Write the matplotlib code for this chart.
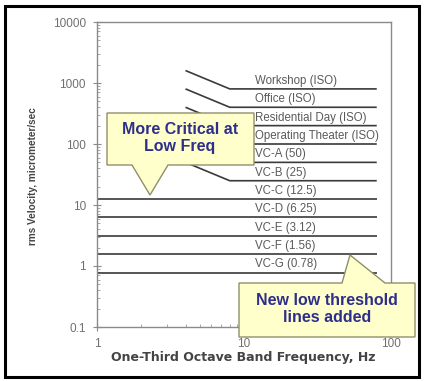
import matplotlib.pyplot as plt
from matplotlib.patches import Polygon, Rectangle
from matplotlib.ticker import LogLocator, NullFormatter, FixedLocator

# sloped criteria (4 Hz -> 8 Hz, then flat to 80 Hz)
iso_labels = ['Workshop (ISO)', 'Office (ISO)', 'Residential Day (ISO)',
              'Operating Theater (ISO)', 'VC-A (50)', 'VC-B (25)']
iso_values = [800, 400, 200, 100, 50, 25]
iso_freq = [4, 8, 80]

# flat criteria (1 Hz -> 80 Hz)
vc_labels = ['VC-C (12.5)', 'VC-D (6.25)', 'VC-E (3.12)', 'VC-F (1.56)', 'VC-G (0.78)']
vc_values = [12.5, 6.25, 3.12, 1.56, 0.78]
vc_freq = [1, 80]

x_ticks = [1, 10, 100]
y_ticks = [0.1, 1, 10, 100, 1000, 10000]

W, H = 424, 381


def px(x, y):
    # pixel (top-left origin) -> figure fraction
    return (x / W, 1 - y / H)


fig = plt.figure(figsize=(W / 100, H / 100), dpi=100)
ax = fig.add_axes([97 / W, 1 - 327 / H, 294 / W, 305 / H])

line_kw = dict(color='#3a3a3a', lw=1.2, solid_capstyle='butt')
lab_kw = dict(fontsize=8.3, color='#5a5a5a', family='Liberation Sans',
              ha='left', va='bottom')
label_x = 11.9

for lab, v in zip(iso_labels, iso_values):
    ax.plot(iso_freq, [v * iso_freq[1] / iso_freq[0], v, v], **line_kw)
    ax.annotate(lab, (label_x, v), xytext=(0, 1.5), textcoords='offset points', **lab_kw)

for lab, v in zip(vc_labels, vc_values):
    ax.plot(vc_freq, [v, v], **line_kw)
    ax.annotate(lab, (label_x, v), xytext=(0, 1.5), textcoords='offset points', **lab_kw)

ax.set_xscale('log')
ax.set_yscale('log')
ax.set_xlim(1, 100)
ax.set_ylim(0.1, 10000)

ax.xaxis.set_major_locator(FixedLocator(x_ticks))
ax.yaxis.set_major_locator(FixedLocator(y_ticks))
ax.set_xticklabels([str(t) for t in x_ticks])
ax.set_yticklabels(['0.1', '1', '10', '100', '1000', '10000'])
ax.xaxis.set_minor_locator(LogLocator(base=10, subs=range(2, 10)))
ax.yaxis.set_minor_locator(LogLocator(base=10, subs=range(2, 10)))
ax.xaxis.set_minor_formatter(NullFormatter())
ax.yaxis.set_minor_formatter(NullFormatter())

for s in ax.spines.values():
    s.set_color('#8a8a8a')
    s.set_linewidth(1.0)
ax.tick_params(which='major', direction='inout', length=6, width=0.8, color='#8a8a8a',
               labelsize=8.5, labelcolor='#707070', pad=5)
ax.tick_params(which='minor', direction='in', length=2.5, width=0.6, color='#9a9a9a')
ax.tick_params(axis='y', which='both', right=False)
ax.tick_params(axis='x', which='both', top=False)
for t in ax.get_xticklabels() + ax.get_yticklabels():
    t.set_family('Liberation Sans')

fig.text(*px(33, 176), 'rms Velocity, micrometer/sec', rotation=90, ha='center', va='center',
         fontsize=7.2, fontweight='bold', color='#444444', family='Liberation Sans')
fig.text(*px(243, 357), 'One-Third Octave Band Frequency, Hz', ha='center', va='center',
         fontsize=9, fontweight='bold', color='#444444', family='DejaVu Sans')

# callouts
box_kw = dict(closed=True, facecolor='#ffffcc', edgecolor='#8f8f6a', lw=1.0,
              transform=fig.transFigure, zorder=5)
call1 = [(107, 113), (254, 113), (254, 165), (168, 165), (150, 195), (132, 165), (107, 165)]
call2 = [(239, 283), (342, 283), (350, 255), (385, 283), (415, 283), (415, 337), (239, 337)]
fig.patches.append(Polygon([px(*p) for p in call1], **box_kw))
fig.patches.append(Polygon([px(*p) for p in call2], **box_kw))

txt_kw = dict(ha='center', va='center', fontsize=11.5, fontweight='bold', color='#2e2e8c',
              family='Liberation Sans', linespacing=1.2, zorder=6)
fig.text(*px(180, 138), 'More Critical at\nLow Freq', **txt_kw)
fig.text(*px(327, 309), 'New low threshold\nlines added', **txt_kw)

# outer frame
fig.patches.append(Rectangle(px(4.5, 376.5), 414.5 / W, 371 / H, fill=False,
                             edgecolor='black', lw=2.2, transform=fig.transFigure, zorder=10))

fig.savefig('out.png', dpi=100)
